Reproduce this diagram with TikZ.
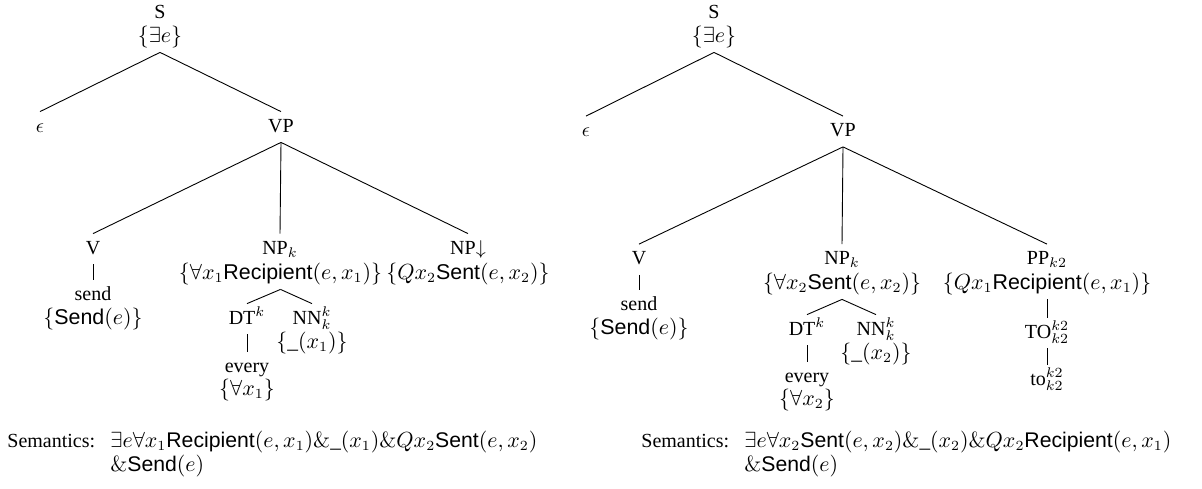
\documentclass[tikz,border=0pt]{standalone}
\usepackage[no-math]{fontspec}
\setmainfont{Liberation Serif}
\setsansfont{Liberation Sans}
\newcommand{\pred}[1]{\textsf{#1}}
\tikzset{
  tn/.style={anchor=base, inner sep=1.5pt, text height=8.5pt, text depth=3.5pt},
  fm/.style={tn, font=\fontsize{10.7}{12.8}\selectfont},
  sem/.style={anchor=base west, inner sep=0pt},
  semf/.style={sem, font=\fontsize{10.6}{12.8}\selectfont},
  branch/.style={line width=0.45pt}
}
\begin{document}
\begin{tikzpicture}[x=0.5pt, y=-0.5pt]
\useasboundingbox (0,0) rectangle (1202,488);

% ---------- first derivation ----------
\node[tn] (aS)    at (160,18.5) {S};
\node[fm] (aSs)   at (160,42)   {$\{\exists e\}$};
\node[tn] (aE)    at (40,132)   {$\epsilon$};
\node[tn] (aVP)   at (281,132)  {VP};
\node[tn] (aV)    at (93,254)   {V};
\node[tn] (asend) at (93,300)   {send};
\node[fm] (asendS) at (93,324)  {$\{\pred{Send}(e)\}$};
\node[tn] (aNP)   at (280,254)  {NP$_k$};
\node[fm] (aNPs)  at (280.5,279) {$\{\forall x_1\pred{Recipient}(e,x_1)\}$};
\node[tn] (aNQ)   at (468,254)  {NP$\downarrow$};
\node[fm] (aNQs)  at (468,279)  {$\{Qx_2\pred{Sent}(e,x_2)\}$};
\node[tn] (aDT)   at (247,324)  {DT$^k$};
\node[tn] (aNN)   at (312,324)  {NN$^k_k$};
\node[fm] (aNNs)  at (312,348)  {$\{\_(x_1)\}$};
\node[tn] (aev)   at (247,372)  {every};
\node[fm] (aevs)  at (247,395)  {$\{\forall x_1\}$};

\draw[branch] (aSs.south) -- (aE.north);
\draw[branch] (aSs.south) -- (aVP.north);
\draw[branch] (aVP.south) -- (aV.north);
\draw[branch] (aVP.south) -- (aNP.north);
\draw[branch] (aVP.south) -- (aNQ.north);
\draw[branch] (aV.south) -- (asend.north);
\draw[branch] (aNPs.south) -- (aDT.north);
\draw[branch] (aNPs.south) -- (aNN.north);
\draw[branch] (aDT.south) -- (aev.north);

\node[sem]  (aLab) at (7,447) {Semantics:};
\node[semf] (aF1) at (110,447) {$\exists e\forall x_1\pred{Recipient}(e,x_1)\&\_(x_1)\&Qx_2\pred{Sent}(e,x_2)$};
\node[semf] (aF2) at (110,471) {$\&\pred{Send}(e)$};

% ---------- second derivation ----------
\node[tn] (bS)    at (714,18.5) {S};
\node[fm] (bSs)   at (714,42)   {$\{\exists e\}$};
\node[tn] (bE)    at (586,136.5) {$\epsilon$};
\node[tn] (bVP)   at (843,136.5) {VP};
\node[tn] (bV)    at (639,264.5) {V};
\node[tn] (bsend) at (639,310.5) {send};
\node[fm] (bsendS) at (639,334)  {$\{\pred{Send}(e)\}$};
\node[tn] (bNP)   at (842,264.5) {NP$_k$};
\node[fm] (bNPs)  at (842,289)   {$\{\forall x_2\pred{Sent}(e,x_2)\}$};
\node[tn] (bPP)   at (1047,264.5) {PP$_{k2}$};
\node[fm] (bPPs)  at (1047,289)  {$\{Qx_1\pred{Recipient}(e,x_1)\}$};
\node[tn] (bTO)   at (1047,338)  {TO$^{k2}_{k2}$};
\node[tn] (bto)   at (1047,385)  {to$^{k2}_{k2}$};
\node[tn] (bDT)   at (807,335)   {DT$^k$};
\node[tn] (bNN)   at (876,335)   {NN$^k_k$};
\node[fm] (bNNs)  at (876,359)   {$\{\_(x_2)\}$};
\node[tn] (bev)   at (807,382)   {every};
\node[fm] (bevs)  at (807,405)   {$\{\forall x_2\}$};

\draw[branch] (bSs.south) -- (bE.north);
\draw[branch] (bSs.south) -- (bVP.north);
\draw[branch] (bVP.south) -- (bV.north);
\draw[branch] (bVP.south) -- (bNP.north);
\draw[branch] (bVP.south) -- (bPP.north);
\draw[branch] (bV.south) -- (bsend.north);
\draw[branch] (bNPs.south) -- (bDT.north);
\draw[branch] (bNPs.south) -- (bNN.north);
\draw[branch] (bDT.south) -- (bev.north);
\draw[branch] (bPPs.south) -- (bTO.north);
\draw[branch] (bTO.south) -- (bto.north);

\node[sem]  (bLab) at (641,447) {Semantics:};
\node[semf] (bF1) at (744,447) {$\exists e\forall x_2\pred{Sent}(e,x_2)\&\_(x_2)\&Qx_2\pred{Recipient}(e,x_1)$};
\node[semf] (bF2) at (744,471) {$\&\pred{Send}(e)$};
\end{tikzpicture}
\end{document}
